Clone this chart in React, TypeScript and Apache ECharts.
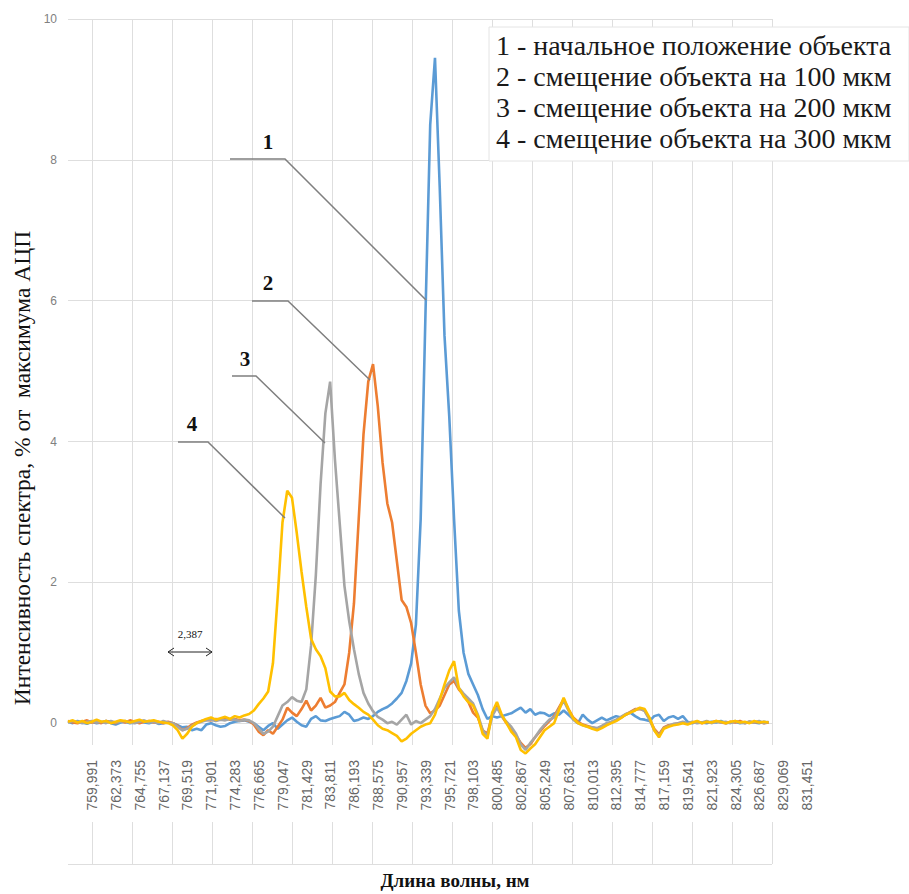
import React, { useEffect, useRef } from "react";
import * as echarts from "echarts";

// Wavelength grid of the spectrometer (nm)
const WL_START = 757.592;
const WL_STEP = 0.4764;

// Tick labels of the wavelength axis
const X_LABELS = [
  "759,991", "762,373", "764,755", "767,137", "769,519", "771,901", "774,283", "776,665",
  "779,047", "781,429", "783,811", "786,193", "788,575", "790,957", "793,339", "795,721",
  "798,103", "800,485", "802,867", "805,249", "807,631", "810,013", "812,395", "814,777",
  "817,159", "819,541", "821,923", "824,305", "826,687", "829,069", "831,451",
];

const SERIES_NAMES = [
  "1 - начальное положение объекта",
  "2 - смещение объекта на 100 мкм",
  "3 - смещение объекта на 200 мкм",
  "4 - смещение объекта на 300 мкм",
];

// 1 - initial position (blue)
const S1 = [
  0.02, 0.0, 0.03, 0.01, -0.01, 0.02, 0.0, 0.01, 0.03, 0.0, -0.02, 0.01, 0.02, 0.0, 0.01, 0.03, 0.01, 0.0, 0.02, -0.01, 0.0, 0.01,
  0.0, -0.03, -0.06, -0.05, -0.1, -0.08, -0.1, -0.02, 0.0, -0.03, -0.05, -0.04, 0.0, 0.02, 0.03, 0.04, 0.02, 0.0, -0.05, -0.1,
  -0.04, 0.0, -0.08, -0.02, 0.04, 0.08, 0.02, -0.03, -0.05, 0.06, 0.1, 0.04, 0.03, 0.06, 0.08, 0.1, 0.16, 0.12, 0.03, 0.05,
  0.08, 0.06, 0.1, 0.16, 0.2, 0.23, 0.28, 0.35, 0.43, 0.6, 0.85, 1.4, 2.9, 5.8, 8.5, 9.45, 7.6, 5.5, 4.35, 2.9,
  1.6, 1.0, 0.7, 0.55, 0.4, 0.2, 0.06, 0.1, 0.08, 0.1, 0.12, 0.14, 0.18, 0.22, 0.15, 0.2, 0.12, 0.15, 0.14, 0.1,
  0.14, 0.12, 0.18, 0.12, 0.06, 0.0, 0.12, 0.05, 0.0, 0.04, 0.08, 0.04, 0.07, 0.1, 0.08, 0.12, 0.15, 0.1, 0.06, 0.05,
  0.03, 0.1, 0.12, 0.03, 0.08, 0.1, 0.06, 0.1, 0.02,
  0.0, 0.02, 0.01, 0.0, 0.02, 0.01, 0.03, 0.0, 0.01, 0.02, 0.0, 0.01, 0.02, 0.01, 0.0, 0.02, 0.01,
];

// 2 - shift 100 um (orange)
const S2 = [
  0.03, 0.01, 0.0, 0.02, 0.04, 0.01, 0.02, 0.0, 0.03, 0.02, 0.0, 0.03, 0.01, 0.04, 0.02, 0.0, 0.02, 0.03, 0.01, 0.02, 0.0, 0.02,
  0.0, -0.04, -0.1, -0.07, -0.02, 0.01, 0.03, 0.05, 0.04, 0.06, 0.05, 0.07, 0.05, 0.06, 0.04, 0.05, 0.03, -0.02, -0.12, -0.17,
  -0.1, -0.15, -0.05, 0.05, 0.22, 0.15, 0.1, 0.2, 0.32, 0.18, 0.25, 0.36, 0.22, 0.25, 0.3, 0.43, 0.55, 1.0, 1.7, 2.9,
  4.1, 4.85, 5.1, 4.5, 3.7, 3.12, 2.85, 2.3, 1.75, 1.65, 1.42, 1.0, 0.55, 0.25, 0.14, 0.18, 0.25, 0.4, 0.55, 0.6,
  0.48, 0.4, 0.3, 0.15, 0.08, -0.1, -0.15, 0.12, 0.25, 0.1, 0.0, -0.08, -0.18, -0.28, -0.35, -0.3, -0.2, -0.12, -0.04, 0.03,
  0.1, 0.22, 0.34, 0.2, 0.08, 0.02, -0.02, -0.04, -0.06, -0.08, -0.05, -0.02, 0.01, 0.04, 0.08, 0.12, 0.16, 0.2, 0.2, 0.18,
  0.06, -0.08, -0.16, -0.06, -0.03, -0.02, 0.0, 0.01, -0.01,
  0.01, 0.02, 0.0, 0.02, 0.01, 0.03, 0.01, 0.0, 0.02, 0.01, 0.03, 0.0, 0.02, 0.01, 0.02, 0.0, 0.01,
];

// 3 - shift 200 um (grey)
const S3 = [
  0.01, 0.03, 0.02, 0.0, 0.02, 0.03, 0.01, 0.02, 0.0, 0.03, 0.01, 0.02, 0.03, 0.01, 0.0, 0.02, 0.04, 0.01, 0.02, 0.0, 0.03, 0.01,
  0.0, -0.05, -0.1, -0.08, -0.04, 0.0, 0.02, 0.04, 0.05, 0.03, 0.05, 0.04, 0.06, 0.05, 0.03, 0.05, 0.04, 0.0, -0.08, -0.15,
  -0.12, -0.05, 0.1, 0.25, 0.3, 0.37, 0.32, 0.3, 0.48, 1.1, 2.1, 3.4, 4.4, 4.85, 3.75, 2.85, 1.95, 1.45, 1.05, 0.7,
  0.43, 0.28, 0.17, 0.09, 0.05, 0.0, 0.02, -0.02, 0.05, 0.12, -0.02, 0.03, 0.0, 0.05, 0.1, 0.2, 0.35, 0.5, 0.58, 0.65,
  0.5, 0.42, 0.35, 0.28, 0.12, -0.1, -0.18, 0.1, 0.22, 0.1, 0.02, -0.05, -0.15, -0.3, -0.38, -0.28, -0.2, -0.1, -0.02, 0.05,
  0.08, 0.2, 0.32, 0.18, 0.05, 0.0, -0.03, -0.05, -0.06, -0.07, -0.04, 0.0, 0.02, 0.05, 0.09, 0.13, 0.15, 0.19, 0.21, 0.17,
  0.05, -0.1, -0.18, -0.07, -0.04, -0.01, 0.0, 0.02, 0.0,
  0.02, 0.0, 0.01, 0.03, 0.0, 0.02, 0.01, 0.02, 0.0, 0.03, 0.01, 0.0, 0.02, 0.01, 0.03, 0.0, 0.02,
];

// 4 - shift 300 um (yellow)
const S4 = [
  0.02, 0.04, 0.01, 0.03, 0.0, 0.02, 0.05, 0.02, 0.03, 0.0, 0.02, 0.04, 0.03, 0.01, 0.03, 0.05, 0.02, 0.03, 0.04, 0.02, 0.01, 0.0,
  -0.03, -0.1, -0.22, -0.15, -0.05, 0.0, 0.03, 0.06, 0.08, 0.05, 0.07, 0.09, 0.06, 0.1, 0.08, 0.11, 0.13, 0.18, 0.27, 0.35,
  0.45, 0.85, 1.8, 2.85, 3.3, 3.2, 2.7, 2.15, 1.65, 1.2, 1.05, 0.95, 0.78, 0.45, 0.38, 0.38, 0.43, 0.33, 0.27, 0.22,
  0.16, 0.12, 0.05, -0.03, -0.08, -0.1, -0.14, -0.18, -0.26, -0.22, -0.15, -0.1, -0.05, -0.02, 0.0, 0.12, 0.33, 0.55, 0.75, 0.88,
  0.5, 0.38, 0.3, 0.25, 0.1, -0.15, -0.22, 0.15, 0.3, 0.12, 0.0, -0.12, -0.2, -0.38, -0.43, -0.36, -0.3, -0.2, -0.1, -0.05,
  0.0, 0.18, 0.36, 0.2, 0.07, 0.0, -0.03, -0.05, -0.08, -0.1, -0.07, -0.03, 0.0, 0.03, 0.07, 0.12, 0.15, 0.18, 0.22, 0.2,
  0.08, -0.1, -0.2, -0.08, -0.05, -0.03, -0.02, 0.0, -0.02,
  0.01, 0.03, 0.0, 0.02, 0.01, 0.03, 0.02, 0.0, 0.02, 0.03, 0.01, 0.02, 0.0, 0.03, 0.01, 0.02, 0.01,
];

const Y_MIN = -2;
const Y_MAX = 10;
const Y_STEP = 2;

const COLORS = ["#5b9bd5", "#ed7d31", "#a5a5a5", "#ffc000"];

const GRID_COLOR = "#dedede";
const SERIF = '"Liberation Serif", "Times New Roman", serif';

export default function App() {
  const ref = useRef<HTMLDivElement>(null);

  useEffect(() => {
    if (!ref.current) return;
    const chart = echarts.init(ref.current, null, { renderer: "svg" });
    const wl = S1.map((_, i) => +(WL_START + WL_STEP * i).toFixed(4));
    const xMin = WL_START;
    const xMax = WL_START + 704 * 0.099958;
    const vCats = Array.from({ length: 18 }, (_, i) => String(i));

    const allSeries = [S1, S2, S3, S4].map((s, k) => ({
      name: SERIES_NAMES[k],
      type: "line",
      xAxisIndex: 0,
      yAxisIndex: 0,
      data: s.map((v, i) => [wl[i], v]),
      showSymbol: false,
      symbol: "none",
      silent: true,
      lineStyle: { color: COLORS[k], width: 2.6 },
      itemStyle: { color: COLORS[k] },
      z: 2 + k,
    }));

    const txt = (text: string, x: number, y: number, font: string, extra: any = {}) => ({
      type: "text",
      x,
      y,
      z: 100,
      ...extra,
      style: {
        text,
        x: 0,
        y: 0,
        font,
        fill: extra.fill || "#111",
        textAlign: extra.align || "left",
        align: extra.align || "left",
        textVerticalAlign: "middle",
        verticalAlign: "middle",
      },
    });

    const leader = (pts: number[][]) => ({
      type: "polyline",
      z: 100,
      shape: { points: pts },
      style: { stroke: "#7f7f7f", lineWidth: 1.5, fill: "none" },
    });

    const option: any = {
      animation: false,
      backgroundColor: "#ffffff",
      grid: [
        { left: 68, top: 19, width: 704, height: 845 },
        { left: 92, top: 19, width: 715, height: 738 },
        { left: 92, top: 19, width: 680, height: 726 },
        { left: 92, top: 822, width: 680, height: 42 },
      ],
      xAxis: [
        { type: "value", gridIndex: 0, min: xMin, max: xMax, show: false },
        {
          type: "category",
          gridIndex: 1,
          data: X_LABELS,
          boundaryGap: false,
          axisLine: { show: false },
          axisTick: { show: false },
          splitLine: { show: false },
          axisLabel: {
            interval: 0,
            rotate: 90,
            margin: 3,
            fontSize: 14,
            color: "#666666",
            fontFamily: '"Liberation Sans", Arial, sans-serif',
          },
        },
        {
          type: "category",
          gridIndex: 2,
          data: vCats,
          boundaryGap: false,
          axisLine: { show: false },
          axisTick: { show: false },
          axisLabel: { show: false },
          splitLine: { show: true, interval: 0, lineStyle: { color: GRID_COLOR, width: 1 } },
        },
        {
          type: "category",
          gridIndex: 3,
          data: vCats,
          boundaryGap: false,
          axisLine: { show: false },
          axisTick: { show: false },
          axisLabel: { show: false },
          splitLine: { show: true, interval: 0, lineStyle: { color: GRID_COLOR, width: 1 } },
        },
      ],
      yAxis: [
        {
          type: "value",
          gridIndex: 0,
          min: Y_MIN,
          max: Y_MAX,
          interval: Y_STEP,
          axisLine: { show: false },
          axisTick: { show: false },
          splitLine: { show: true, lineStyle: { color: GRID_COLOR, width: 1 } },
          axisLabel: {
            margin: 11,
            fontSize: 12,
            color: "#808080",
            fontFamily: '"Liberation Sans", Arial, sans-serif',
            formatter: (v: number) => (v < 0 ? "" : String(v)),
          },
        },
        { type: "value", gridIndex: 1, show: false, min: 0, max: 1 },
        { type: "value", gridIndex: 2, show: false, min: 0, max: 1 },
        { type: "value", gridIndex: 3, show: false, min: 0, max: 1 },
      ],
      series: allSeries,
      graphic: {
        elements: [
          // legend box
          {
            type: "rect",
            z: 99,
            shape: { x: 489, y: 27, width: 420, height: 134 },
            style: { fill: "#ffffff", stroke: "#e4e4e4", lineWidth: 1 },
          },
          ...SERIES_NAMES.map((n, k) => txt(n, 496, 45 + k * 31, `28px ${SERIF}`, { fill: "#1a1a1a" })),
          // axis titles
          txt("Длина волны, нм", 455, 880, `bold 19px ${SERIF}`, { align: "center", fill: "#111" }),
          txt("Интенсивность спектра, % от  максимума АЦП", 22, 468, `23.5px ${SERIF}`, {
            align: "center",
            rotation: Math.PI / 2,
            fill: "#111",
          }),
          // curve numbers with leader lines
          txt("1", 268, 142, `bold 21px ${SERIF}`, { align: "center" }),
          leader([[230, 159], [285, 159], [426, 300]]),
          txt("2", 268, 283, `bold 21px ${SERIF}`, { align: "center" }),
          leader([[252, 301], [288, 301], [370, 380]]),
          txt("3", 245, 359, `bold 21px ${SERIF}`, { align: "center" }),
          leader([[232, 376], [256, 376], [325, 443]]),
          txt("4", 192, 424, `bold 21px ${SERIF}`, { align: "center" }),
          leader([[178, 442], [208, 442], [285, 518]]),
          // resolution annotation
          txt("2,387", 190, 634, `11px ${SERIF}`, { align: "center" }),
          {
            type: "line",
            z: 100,
            shape: { x1: 168, y1: 652, x2: 212, y2: 652 },
            style: { stroke: "#222", lineWidth: 1 },
          },
          {
            type: "polyline",
            z: 100,
            shape: { points: [[174, 648], [168, 652], [174, 656]] },
            style: { stroke: "#222", lineWidth: 1, fill: "none" },
          },
          {
            type: "polyline",
            z: 100,
            shape: { points: [[206, 648], [212, 652], [206, 656]] },
            style: { stroke: "#222", lineWidth: 1, fill: "none" },
          },
        ],
      },
    };

    chart.setOption(option);
    return () => chart.dispose();
  }, []);

  return (
    <div
      ref={ref}
      style={{ position: "fixed", left: 0, top: 0, width: 909, height: 894, background: "#fff" }}
    />
  );
}
